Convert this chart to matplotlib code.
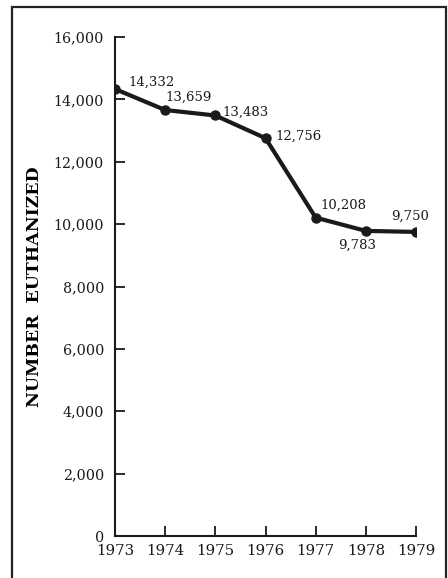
import matplotlib
matplotlib.use('Agg')
import matplotlib.pyplot as plt
from matplotlib.patches import Rectangle

years = [1973, 1974, 1975, 1976, 1977, 1978, 1979]
euthanized = [14332, 13659, 13483, 12756, 10208, 9783, 9750]
point_labels = ['14,332', '13,659', '13,483', '12,756', '10,208', '9,783', '9,750']
yticks = [0, 2000, 4000, 6000, 8000, 10000, 12000, 14000, 16000]
ytick_labels = ['0', '2,000', '4,000', '6,000', '8,000', '10,000', '12,000', '14,000', '16,000']

plt.rcParams['font.family'] = ['DejaVu Serif']

fig = plt.figure(figsize=(4.48, 5.78), dpi=100)
ax = fig.add_axes([115/448, 42/578, 301/448, 499/578])

# outer frame
fig.patches.append(Rectangle((12/448, -0.05), 434/448, 1.05 - 7/578, transform=fig.transFigure,
                             fill=False, edgecolor='#222222', linewidth=1.6))

ax.plot(years, euthanized, color='#1a1a1a', linewidth=3, marker='o', markersize=6.5)

# label offsets in points (left edge, vertical centre)
offsets = [(9.4, 5), (0, 9.4), (5, 2), (7, 1.5), (3.6, 8.6), (-20, -10), (-18, 11.5)]
for x, y, lab, (dx, dy) in zip(years, euthanized, point_labels, offsets):
    ax.annotate(lab, (x, y), xytext=(dx, dy), textcoords='offset points',
                fontsize=9.5, ha='left', va='center', color='#1a1a1a')

ax.set_xlim(1973, 1979)
ax.set_ylim(0, 16000)
ax.set_xticks(years)
ax.set_xticklabels([str(y) for y in years], fontsize=10.8)
ax.set_yticks(yticks)
ax.set_yticklabels(ytick_labels, fontsize=10.3)
ax.tick_params(axis='both', direction='in', length=7, width=1.3, colors='#1a1a1a')
ax.tick_params(axis='y', pad=8)
ax.tick_params(axis='x', pad=6)
for side in ['top', 'right']:
    ax.spines[side].set_visible(False)
for side in ['left', 'bottom']:
    ax.spines[side].set_linewidth(1.5)
    ax.spines[side].set_color('#1a1a1a')
ax.set_ylabel('NUMBER  EUTHANIZED', fontsize=12.5, fontweight='bold')
ax.yaxis.set_label_coords(-0.24, 0.5)

fig.savefig('out.png', dpi=100)
